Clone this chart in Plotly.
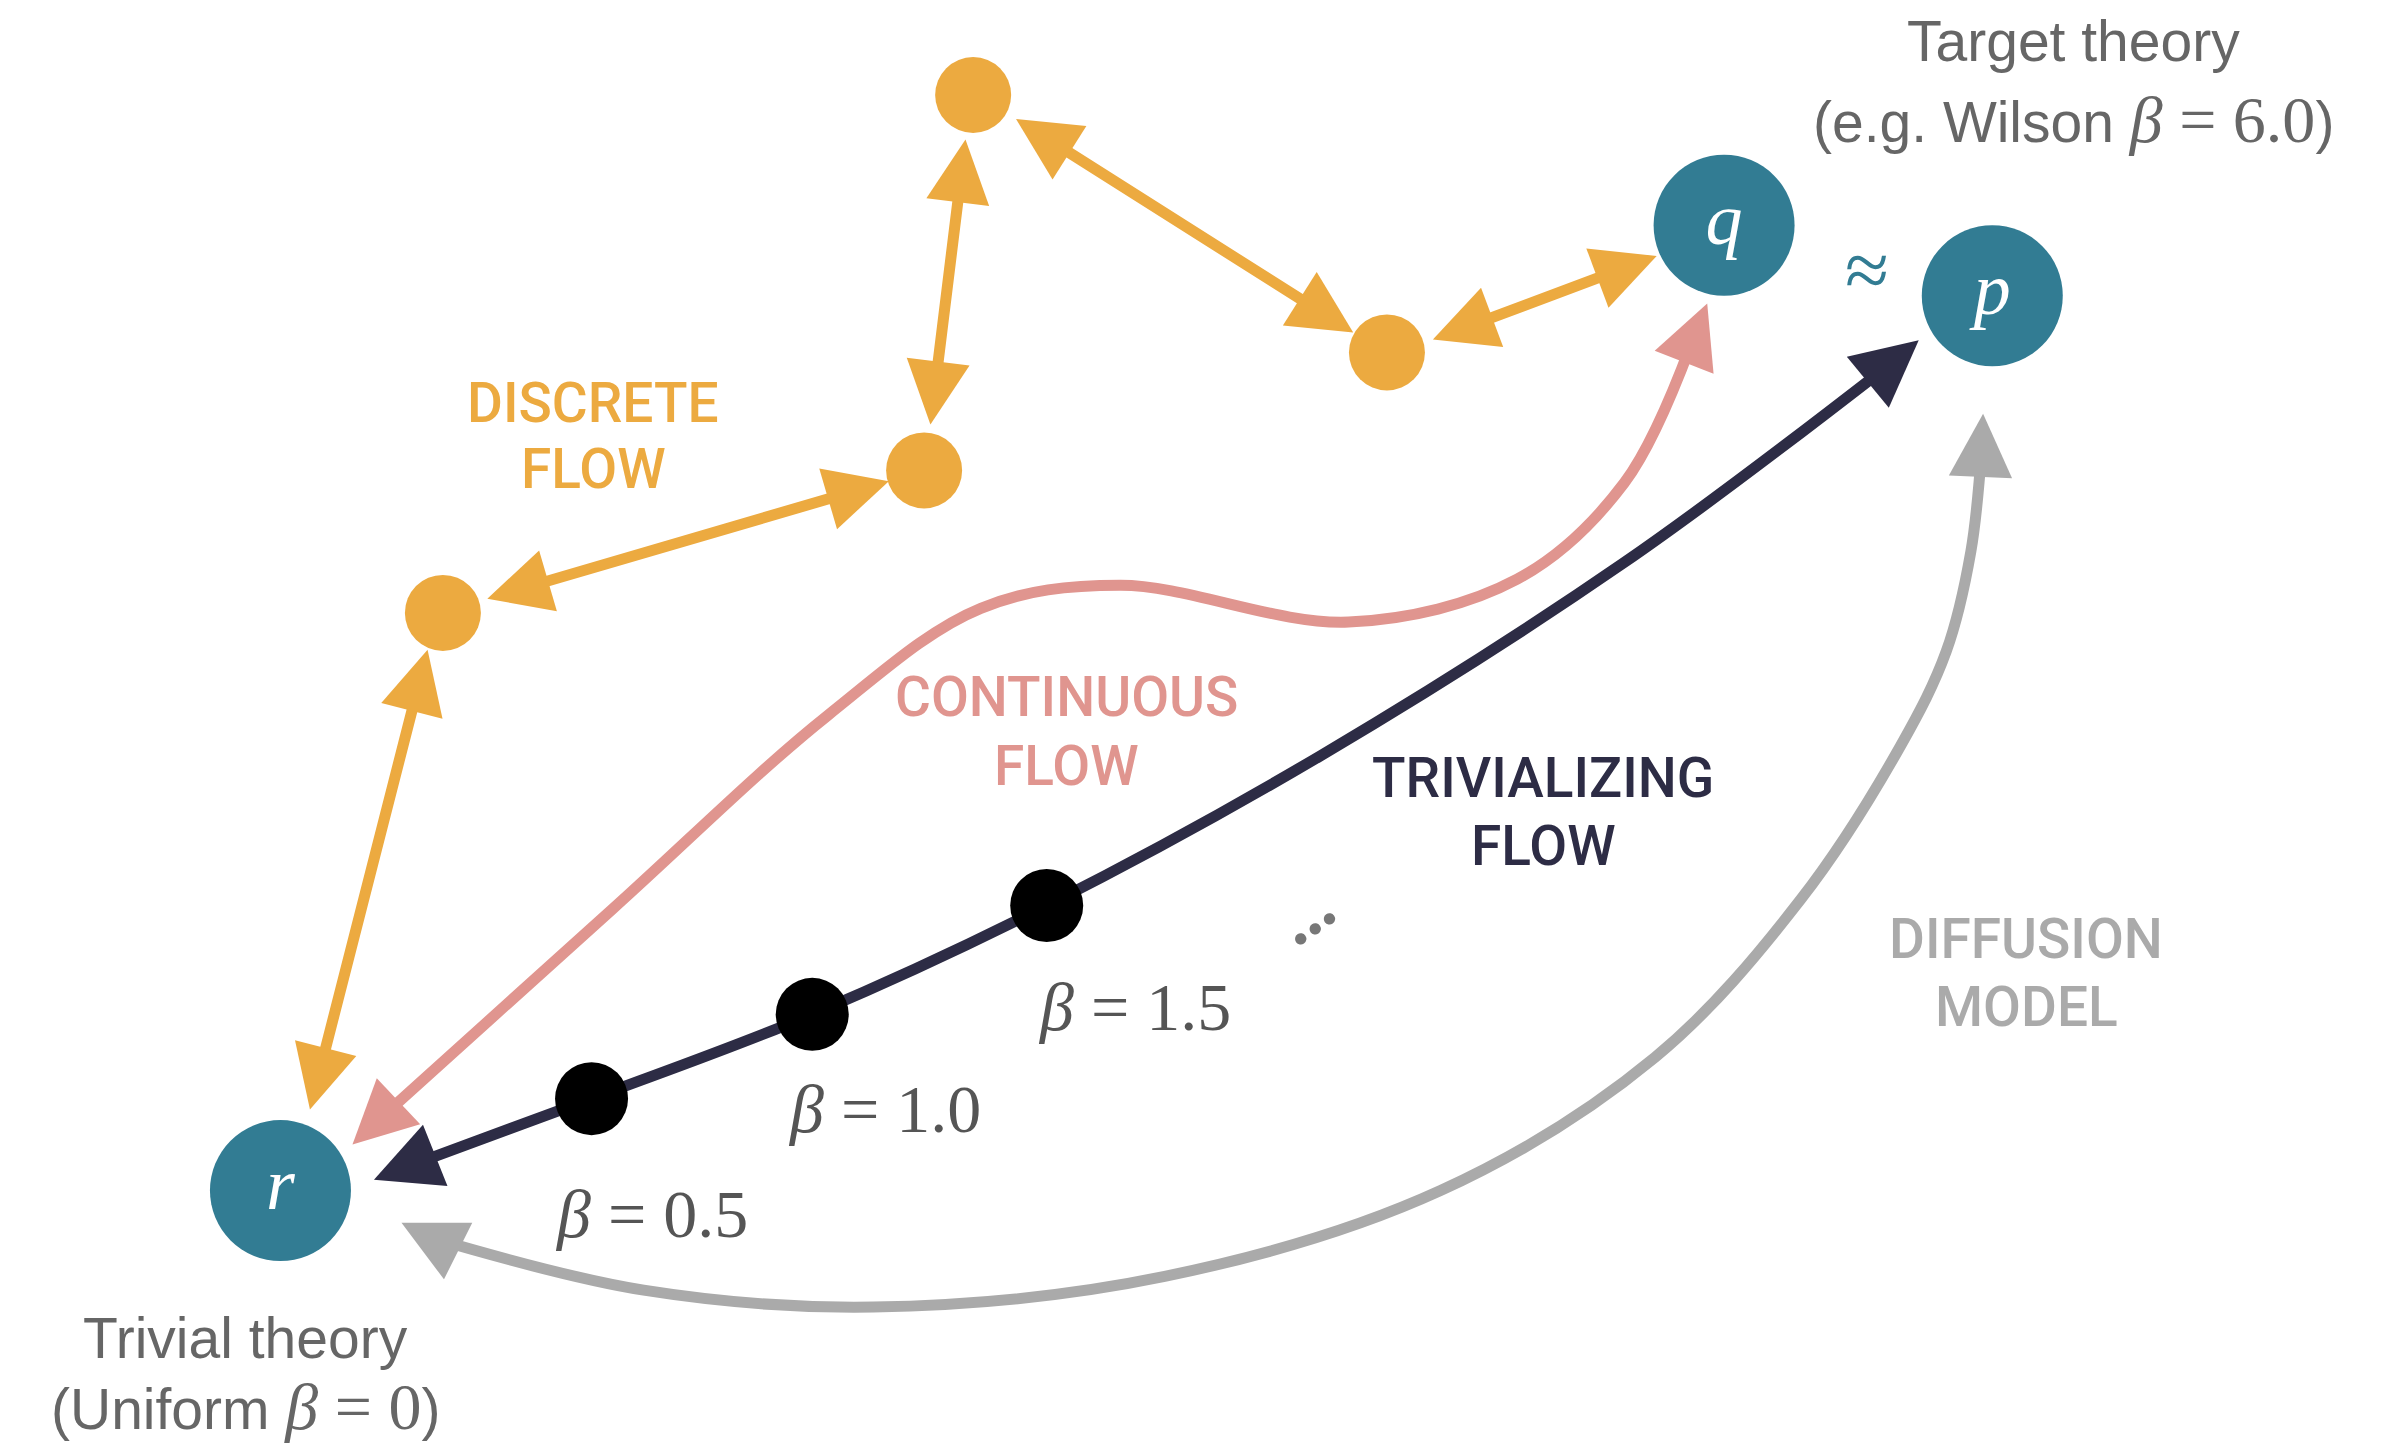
import plotly.graph_objects as go

# ---------------- data (diagram coordinates: x 0..1568, y 0..945 top-down) ----------------
theory_names = ["<i>r</i>", "<i>q</i>", "<i>p</i>"]
theory_x = [183, 1125, 1300]
theory_y = [777, 147, 193]

discrete_x = [289, 603, 635, 905]
discrete_y = [400, 307, 62, 230]

beta_dot_x = [386, 530, 683]
beta_dot_y = [717, 662, 591]
beta_labels = ["<i>β</i> = 0.5", "<i>β</i> = 1.0", "<i>β</i> = 1.5"]
beta_label_x = [425, 577, 740]
beta_label_y = [792, 724, 657]

# discrete flow: double-headed straight arrows (tip A, tip B)
disc_arrow_x0 = [202, 317, 607, 662, 934]
disc_arrow_y0 = [725, 391, 278, 77, 222]
disc_arrow_x1 = [279, 580, 630, 883, 1081]
disc_arrow_y1 = [424, 314, 91, 217, 167]

# continuous flow (r -> q)
cont_x = [248, 400, 540, 640, 731, 880, 990, 1060, 1103]
cont_y = [730, 593, 467, 397, 382, 406, 378, 315, 226]
cont_tip_x = [230, 1114]
cont_tip_y = [747, 198]

# trivializing flow (r -> p)
triv_x = [264, 386, 530, 683, 862, 1060, 1229]
triv_y = [762, 717, 662, 591, 493, 367, 241]
triv_tip_x = [244, 1252]
triv_tip_y = [770, 222]

# diffusion model (r -> p)
diff_x = [282, 420, 570, 760, 940, 1080, 1175, 1240, 1270, 1286, 1293]
diff_y = [808, 842, 853, 833, 777, 690, 587, 487, 425, 360, 294]
diff_tip_x = [262, 1294]
diff_tip_y = [798, 270]

flow_labels = ["DISCRETE", "FLOW", "CONTINUOUS", "FLOW", "TRIVIALIZING", "FLOW", "DIFFUSION", "MODEL"]
flow_label_x = [387, 387, 696, 696, 1007, 1007, 1322, 1322]
flow_label_y = [263, 306, 455, 500, 508, 552, 613, 657]

# ---------------- styles ----------------
TEAL = "#327C93"
ORANGE = "#ECAA40"
PINK = "#E0958F"
NAVY = "#2D2C45"
GRAY = "#AAAAAA"
TXT = "#666666"
flow_colors = [ORANGE, ORANGE, PINK, PINK, NAVY, NAVY, GRAY, GRAY]
SERIF = "Liberation Serif, DejaVu Serif, serif"
SANS = "Liberation Sans, Arial, sans-serif"
LABEL_FONT = "Roboto, Liberation Sans, sans-serif"

fig = go.Figure()


def curve(xs, ys, color, width):
    fig.add_trace(go.Scatter(x=xs, y=ys, mode="lines",
                             line=dict(color=color, width=width, shape="spline", smoothing=1.0),
                             hoverinfo="skip"))


curve(diff_x, diff_y, GRAY, 11)
curve(cont_x, cont_y, PINK, 11)
curve(triv_x, triv_y, NAVY, 11)

annotations = []


def head(tx, ty, bx, by, color, width, size):
    annotations.append(dict(x=tx, y=ty, ax=bx, ay=by, xref="x", yref="y", axref="x", ayref="y",
                            text="", showarrow=True, arrowhead=2, arrowsize=size,
                            arrowwidth=width, arrowcolor=color, font=dict(size=1)))


# curve arrow heads
head(cont_tip_x[0], cont_tip_y[0], cont_x[0], cont_y[0], PINK, 11, 1.15)
head(cont_tip_x[1], cont_tip_y[1], cont_x[-1], cont_y[-1], PINK, 11, 1.15)
head(triv_tip_x[0], triv_tip_y[0], triv_x[0], triv_y[0], NAVY, 11, 1.2)
head(triv_tip_x[1], triv_tip_y[1], triv_x[-1], triv_y[-1], NAVY, 11, 1.2)
head(diff_tip_x[0], diff_tip_y[0], diff_x[0], diff_y[0], GRAY, 11, 1.15)
head(diff_tip_x[1], diff_tip_y[1], diff_x[-1], diff_y[-1], GRAY, 11, 1.15)

# discrete double arrows
for x0, y0, x1, y1 in zip(disc_arrow_x0, disc_arrow_y0, disc_arrow_x1, disc_arrow_y1):
    annotations.append(dict(x=x1, y=y1, ax=x0, ay=y0, xref="x", yref="y", axref="x", ayref="y",
                            text="", showarrow=True, arrowhead=2, startarrowhead=2,
                            arrowside="end+start", arrowsize=1.15, startarrowsize=1.15,
                            arrowwidth=11, arrowcolor=ORANGE, font=dict(size=1)))

# markers
fig.add_trace(go.Scatter(x=discrete_x, y=discrete_y, mode="markers",
                         marker=dict(size=76, color=ORANGE, line=dict(width=0)), hoverinfo="skip"))
fig.add_trace(go.Scatter(x=beta_dot_x, y=beta_dot_y, mode="markers",
                         marker=dict(size=73, color="#000000", line=dict(width=0)), hoverinfo="skip"))
fig.add_trace(go.Scatter(x=theory_x, y=theory_y, mode="markers+text", text=theory_names,
                         textposition="middle center",
                         textfont=dict(family=SERIF, size=74, color="white"),
                         marker=dict(size=141, color=TEAL, line=dict(width=0)), hoverinfo="skip"))

# flow labels
for t, x, y, c in zip(flow_labels, flow_label_x, flow_label_y, flow_colors):
    annotations.append(dict(x=x, y=y, xref="x", yref="y", text=t, showarrow=False,
                            xanchor="center", yanchor="middle",
                            font=dict(family=LABEL_FONT, size=55, color=c, weight=500)))

# beta labels
for t, x, y in zip(beta_labels, beta_label_x, beta_label_y):
    annotations.append(dict(x=x, y=y, xref="x", yref="y", text=t, showarrow=False,
                            xanchor="center", yanchor="middle",
                            font=dict(family=SERIF, size=68, color="#555555")))

annotations += [
    dict(x=1353, y=27, xref="x", yref="y", text="Target theory", showarrow=False,
         font=dict(family=SANS, size=57, color=TXT)),
    dict(x=1353, y=78, xref="x", yref="y",
         text="(e.g. Wilson <span style='font-family:Liberation Serif;font-size:66px'><i>β</i> = 6.0</span>)",
         showarrow=False, font=dict(family=SANS, size=57, color=TXT)),
    dict(x=160, y=873, xref="x", yref="y", text="Trivial theory", showarrow=False,
         font=dict(family=SANS, size=57, color=TXT)),
    dict(x=160, y=918, xref="x", yref="y",
         text="(Uniform <span style='font-family:Liberation Serif;font-size:66px'><i>β</i> = 0</span>)",
         showarrow=False, font=dict(family=SANS, size=57, color=TXT)),
    dict(x=1218, y=176, xref="x", yref="y", text="≈", showarrow=False,
         font=dict(family=SERIF, size=80, color=TEAL)),
    dict(x=851, y=596, xref="x", yref="y", text="...", showarrow=False, textangle=-35,
         font=dict(family=SERIF, size=70, color="#777777", weight=700)),
]

fig.update_layout(
    width=2403, height=1448,
    margin=dict(l=0, r=0, t=0, b=0),
    paper_bgcolor="white", plot_bgcolor="white",
    showlegend=False,
    xaxis=dict(range=[0, 1568], visible=False, fixedrange=True),
    yaxis=dict(range=[945, 0], visible=False, fixedrange=True),
    annotations=annotations,
)

fig.write_html("out.html", config=dict(displayModeBar=False),
               post_script="document.body.style.margin='0';document.body.style.overflow='hidden';")
